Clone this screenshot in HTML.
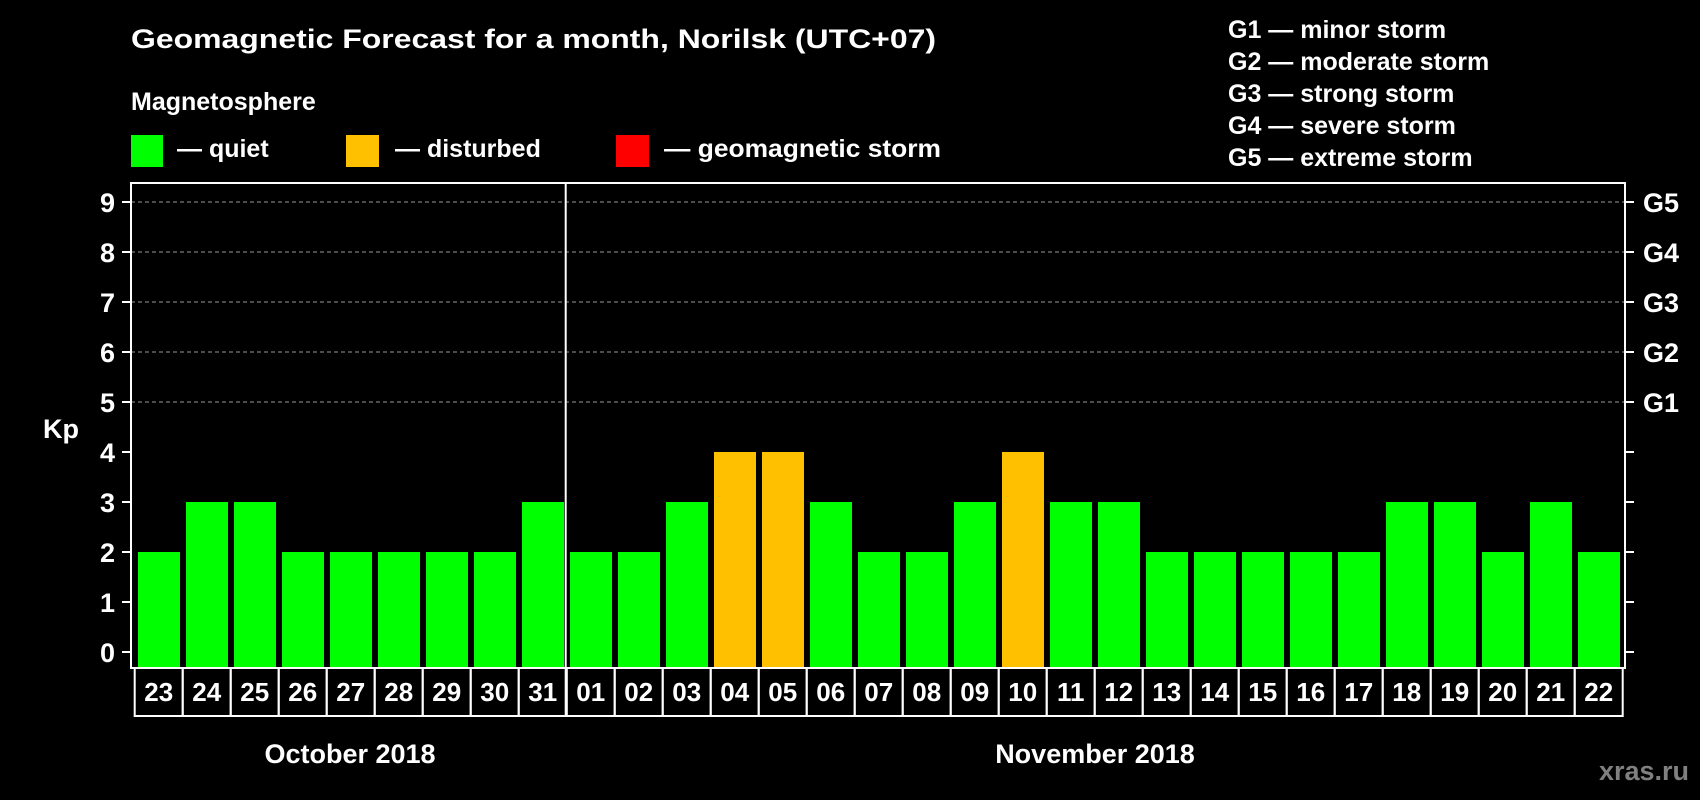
<!DOCTYPE html>
<html><head><meta charset="utf-8"><style>
html,body{margin:0;padding:0;background:#000;}
svg{display:block;font-family:"Liberation Sans",sans-serif;font-weight:bold;}
</style></head><body>
<svg id="chart" width="1700" height="800" viewBox="0 0 1700 800">
<rect width="1700" height="800" fill="#000"/>
<text x="131" y="48" fill="#fff" font-size="27" textLength="805" lengthAdjust="spacingAndGlyphs">Geomagnetic Forecast for a month, Norilsk (UTC+07)</text>
<text x="131" y="110" fill="#fff" font-size="25">Magnetosphere</text>
<g><rect x="131" y="135" width="32" height="32" fill="#00ff00"/><text x="177" y="157" fill="#fff" font-size="25">— quiet</text></g>
<g><rect x="346" y="135" width="33" height="32" fill="#ffc000"/><text x="395" y="157" fill="#fff" font-size="25">— disturbed</text></g>
<g><rect x="616" y="135" width="33" height="32" fill="#ff0000"/><text x="664" y="157" fill="#fff" font-size="25" textLength="277" lengthAdjust="spacingAndGlyphs">— geomagnetic storm</text></g>
<g fill="#fff" font-size="25">
<text x="1228" y="38">G1 — minor storm</text>
<text x="1228" y="70">G2 — moderate storm</text>
<text x="1228" y="102">G3 — strong storm</text>
<text x="1228" y="134">G4 — severe storm</text>
<text x="1228" y="166">G5 — extreme storm</text>
</g>
<g id="grid"></g>
<g id="bars"></g>
<g id="axes"></g>
<text x="43" y="438" fill="#fff" font-size="27">Kp</text>
<text x="350" y="763" fill="#fff" font-size="27" text-anchor="middle">October 2018</text>
<text x="1095" y="763" fill="#fff" font-size="27" text-anchor="middle">November 2018</text>
<text x="1689" y="780" fill="#808080" font-size="27" text-anchor="end">xras.ru</text>
</svg>
<script>
const days = ["23","24","25","26","27","28","29","30","31","01","02","03","04","05","06","07","08","09","10","11","12","13","14","15","16","17","18","19","20","21","22"];
const kpValues = [2,3,3,2,2,2,2,2,3,2,2,3,4,4,3,2,2,3,4,3,3,2,2,2,2,2,3,3,2,3,2];
const yTicks = [0,1,2,3,4,5,6,7,8,9];
const gLabels = ["G1","G2","G3","G4","G5"];
const gLevels = [5,6,7,8,9];
const gridLevels = [5,6,7,8,9];

const NS = "http://www.w3.org/2000/svg";
const plotL = 131, plotR = 1625, plotT = 183, plotB = 668, cellB = 716, cellL = 134.7, pitch = 48;
const y = v => 652 - v * 50;
const x = i => cellL + i * pitch;
function mk(tag, attrs, parent) {
  const e = document.createElementNS(NS, tag);
  for (const k in attrs) e.setAttribute(k, attrs[k]);
  parent.appendChild(e);
  return e;
}
const grid = document.getElementById('grid');
const bars = document.getElementById('bars');
const axes = document.getElementById('axes');

gridLevels.forEach(v => {
  const l = mk('line', {x1: plotL, x2: plotR, y1: y(v), y2: y(v), stroke: '#999', 'stroke-width': 1, 'stroke-dasharray': '4,3'}, grid);
  
  
});

kpValues.forEach((v, i) => {
  const col = v >= 5 ? '#ff0000' : (v >= 4 ? '#ffc000' : '#00ff00');
  const r = mk('rect', {x: x(i) + 3.3, y: y(v), width: 42, height: plotB - y(v), fill: col}, bars);
  
  
});

const frame = mk('rect', {x: plotL, y: plotT, width: plotR - plotL, height: plotB - plotT, fill: 'none', stroke: '#fff', 'stroke-width': 2}, axes);



yTicks.forEach(v => {
  mk('line', {x1: plotL - 9, x2: plotL, y1: y(v), y2: y(v), stroke: '#fff', 'stroke-width': 2}, axes);
  mk('line', {x1: plotR, x2: plotR + 9, y1: y(v), y2: y(v), stroke: '#fff', 'stroke-width': 2}, axes);
  const t = mk('text', {x: 115, y: y(v) + 10, fill: '#fff', 'font-size': 27, 'text-anchor': 'end'}, axes);
  t.textContent = yTicks[v] !== undefined ? v : '';
  
  
});

gLabels.forEach((g, i) => {
  const t = mk('text', {x: 1643, y: y(gLevels[i]) + 10, fill: '#fff', 'font-size': 27}, axes);
  t.textContent = g;
  
  
});

days.forEach((d, i) => {
  const c = mk('rect', {x: x(i), y: plotB, width: pitch, height: cellB - plotB, fill: 'none', stroke: '#fff', 'stroke-width': 2}, axes);
  
  
  const t = mk('text', {x: x(i) + pitch / 2, y: 701, fill: '#fff', 'font-size': 26, 'text-anchor': 'middle'}, axes);
  t.textContent = d;
  
  
});

const splitIdx = days.indexOf("01");
const div = mk('line', {x1: x(splitIdx) - 1, x2: x(splitIdx) - 1, y1: plotT, y2: cellB, stroke: '#fff', 'stroke-width': 2}, axes);


</script>
</body></html>
